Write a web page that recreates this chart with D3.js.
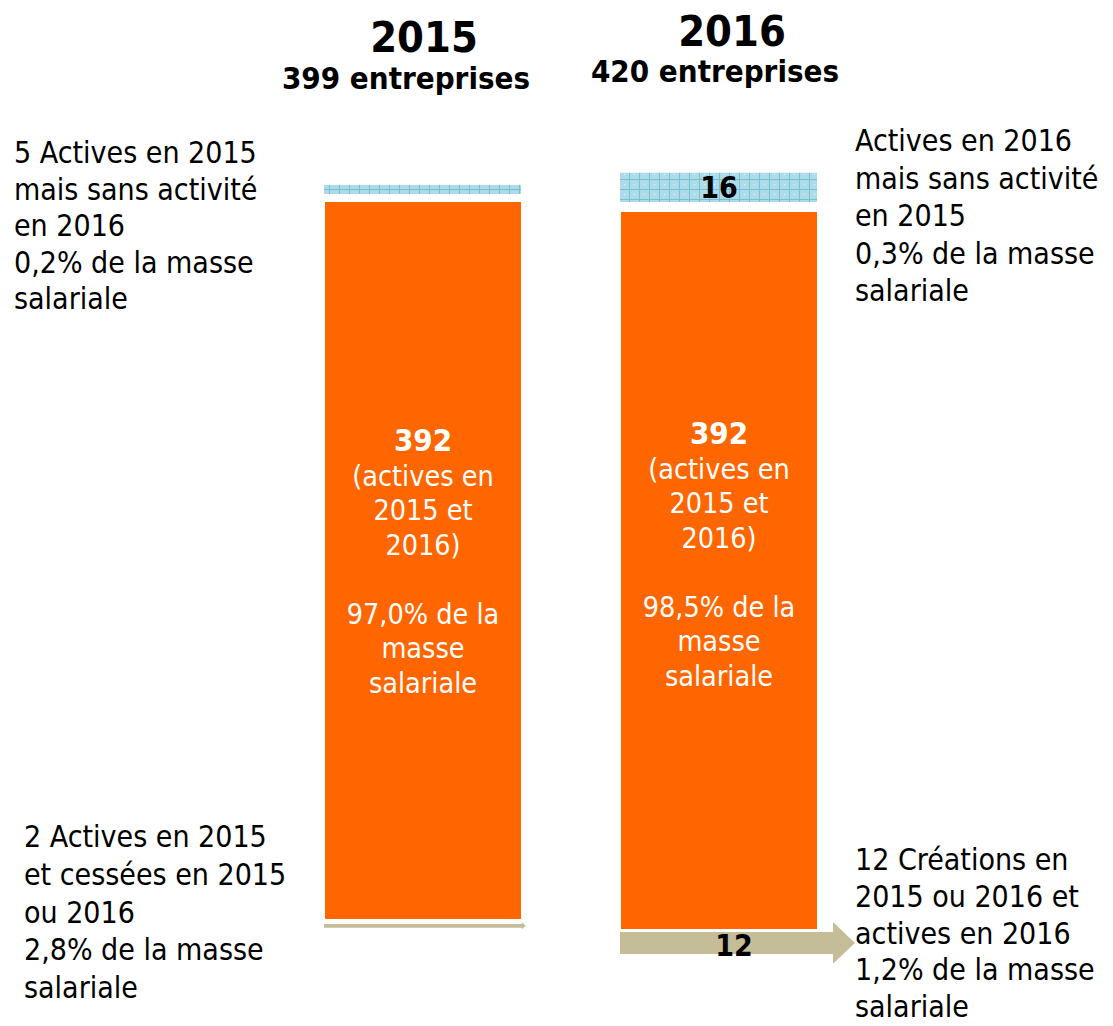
<!DOCTYPE html>
<html>
<head>
<meta charset="utf-8">
<script src="https://cdn.jsdelivr.net/npm/d3@7"></script>
<style>
  body { margin: 0; background: #fff; }
  svg text { font-family: "DejaVu Sans Condensed", "DejaVu Sans", sans-serif; }
</style>
</head>
<body>
<div id="chart"></div>
<script>
// data
const years = ["2015", "2016"]
const totals = [399, 420]
const topCounts = [5, 16]       // actives une année mais sans activité l'autre
const coreCounts = [392, 392]   // actives les deux années
const bottomCounts = [2, 12]    // cessées / créations
const coreShares = ["97,0%", "98,5%"]
const topShares = ["0,2%", "0,3%"]
const bottomShares = ["2,8%", "1,2%"]

const topNotes = [
  ["5 Actives en 2015", "mais sans activité", "en 2016", topShares[0] + " de la masse", "salariale"],
  ["Actives en 2016", "mais sans activité", "en 2015", topShares[1] + " de la masse", "salariale"]
]
const bottomNotes = [
  ["2 Actives en 2015", "et cessées en 2015", "ou 2016", bottomShares[0] + " de la masse", "salariale"],
  ["12 Créations en", "2015 ou 2016 et", "actives en 2016", bottomShares[1] + " de la masse", "salariale"]
]

const width = 1113
const height = 1026

const svg = d3.select("#chart").append("svg")
  .attr("width", width)
  .attr("height", height)

// hatched fill for the top segments
const defs = svg.append("defs")
const pat = defs.append("pattern")
  .attr("id", "hatch")
  .attr("patternUnits", "userSpaceOnUse")
  .attr("width", 10)
  .attr("height", 10)
pat.append("rect").attr("width", 10).attr("height", 10).attr("fill", "#addce8")
pat.append("rect").attr("x", 9).attr("width", 1).attr("height", 10).attr("fill", "#76c0d5")
pat.append("rect").attr("y", 9).attr("width", 10).attr("height", 1).attr("fill", "#76c0d5")
pat.append("rect").attr("x", 4).attr("y", 4).attr("width", 1).attr("height", 1).attr("fill", "#e6f5f9")

const x = d3.scaleBand()
  .domain(years)
  .range([325, 817])
  .paddingInner(100 / 296)
  .paddingOuter(0)

// length scale: units -> pixels
const h = d3.scaleLinear()
  .domain([0, 392])
  .range([0, 717])

const coreTop = [202, 212]
const gapTop = [8, 10]
const gapBottom = [5, 3]
const arrowExtra = [1, 16]
const yearDx = [1, 13]
const subDx = [-17, -4]
const innerShift = [0, -17]

const orange = "#ff6600"
const tan = "#c4bd97"

years.forEach(function(year, i) {
  const x0 = x(year)
  const bw = x.bandwidth()
  const cx = x0 + bw / 2

  // top hatched segment
  const topH = h(topCounts[i])
  const topY = coreTop[i] - gapTop[i] - topH
  svg.append("rect")
    .attr("x", x0 - 1)
    .attr("y", topY)
    .attr("width", bw + 1)
    .attr("height", topH)
    .attr("fill", "url(#hatch)")

  // core orange segment
  const coreH = h(coreCounts[i])
  svg.append("rect")
    .attr("x", x0)
    .attr("y", coreTop[i])
    .attr("width", bw)
    .attr("height", coreH)
    .attr("fill", orange)

  // bottom arrow segment
  const botH = h(bottomCounts[i])
  const botY = coreTop[i] + coreH + gapBottom[i]
  const bodyEnd = x0 + bw + arrowExtra[i]
  const headLen = botH
  const headHalf = botH * 0.95
  const cy = botY + botH / 2
  const pts = [
    [x0 - 1, botY],
    [bodyEnd, botY],
    [bodyEnd, cy - headHalf],
    [bodyEnd + headLen, cy],
    [bodyEnd, cy + headHalf],
    [bodyEnd, botY + botH],
    [x0 - 1, botY + botH]
  ]
  svg.append("path")
    .attr("d", d3.line()(pts) + "Z")
    .attr("fill", tan)

  // numbers inside small segments (only when there is room)
  if (topH > 20) {
    svg.append("text")
      .attr("x", cx)
      .attr("y", topY + topH / 2)
      .attr("dy", "0.37em")
      .attr("text-anchor", "middle")
      .attr("font-weight", "bold")
      .attr("font-size", 30)
      .text(topCounts[i])
  }
  if (botH > 15) {
    svg.append("text")
      .attr("x", cx + 15)
      .attr("y", cy)
      .attr("dy", "0.42em")
      .attr("text-anchor", "middle")
      .attr("font-weight", "bold")
      .attr("font-size", 30)
      .text(bottomCounts[i])
  }

  // label inside the orange bar
  const lines = [
    { t: coreCounts[i], b: true },
    { t: "(actives en" },
    { t: "2015 et" },
    { t: "2016)" },
    { t: "" },
    { t: coreShares[i] + " de la" },
    { t: "masse" },
    { t: "salariale" }
  ]
  const inner = svg.append("text")
    .attr("x", cx)
    .attr("y", coreTop[i] + 249 + innerShift[i])
    .attr("text-anchor", "middle")
    .attr("fill", "#fff")
    .attr("font-size", 28.5)
  lines.forEach(function(l, j) {
    inner.append("tspan")
      .attr("x", cx)
      .attr("dy", j === 0 ? 0 : 34.5)
      .attr("font-weight", l.b ? "bold" : null)
      .attr("font-size", l.b ? 31 : null)
      .text(l.t === "" ? "\u00a0" : l.t)
  })

  // headers
  svg.append("text")
    .attr("x", cx + yearDx[i])
    .attr("y", 52 - i * 6)
    .attr("text-anchor", "middle")
    .attr("font-weight", "bold")
    .attr("font-size", 43)
    .text(year)
  svg.append("text")
    .attr("x", cx + subDx[i])
    .attr("y", 89 - i * 7)
    .attr("text-anchor", "middle")
    .attr("font-weight", "bold")
    .attr("font-size", 31)
    .text(totals[i] + " entreprises")
})

// side notes
function note(lines, x0, y0, step) {
  const t = svg.append("text")
    .attr("x", x0)
    .attr("y", y0)
    .attr("font-size", 30)
    .attr("fill", "#000")
  lines.forEach(function(l, j) {
    t.append("tspan").attr("x", x0).attr("dy", j === 0 ? 0 : step).text(l)
  })
}
note(topNotes[0], 14, 163, 36.5)
note(topNotes[1], 855, 151, 37.5)
note(bottomNotes[0], 24, 847, 37.8)
note(bottomNotes[1], 855, 870, 36.8)
</script>
</body>
</html>
